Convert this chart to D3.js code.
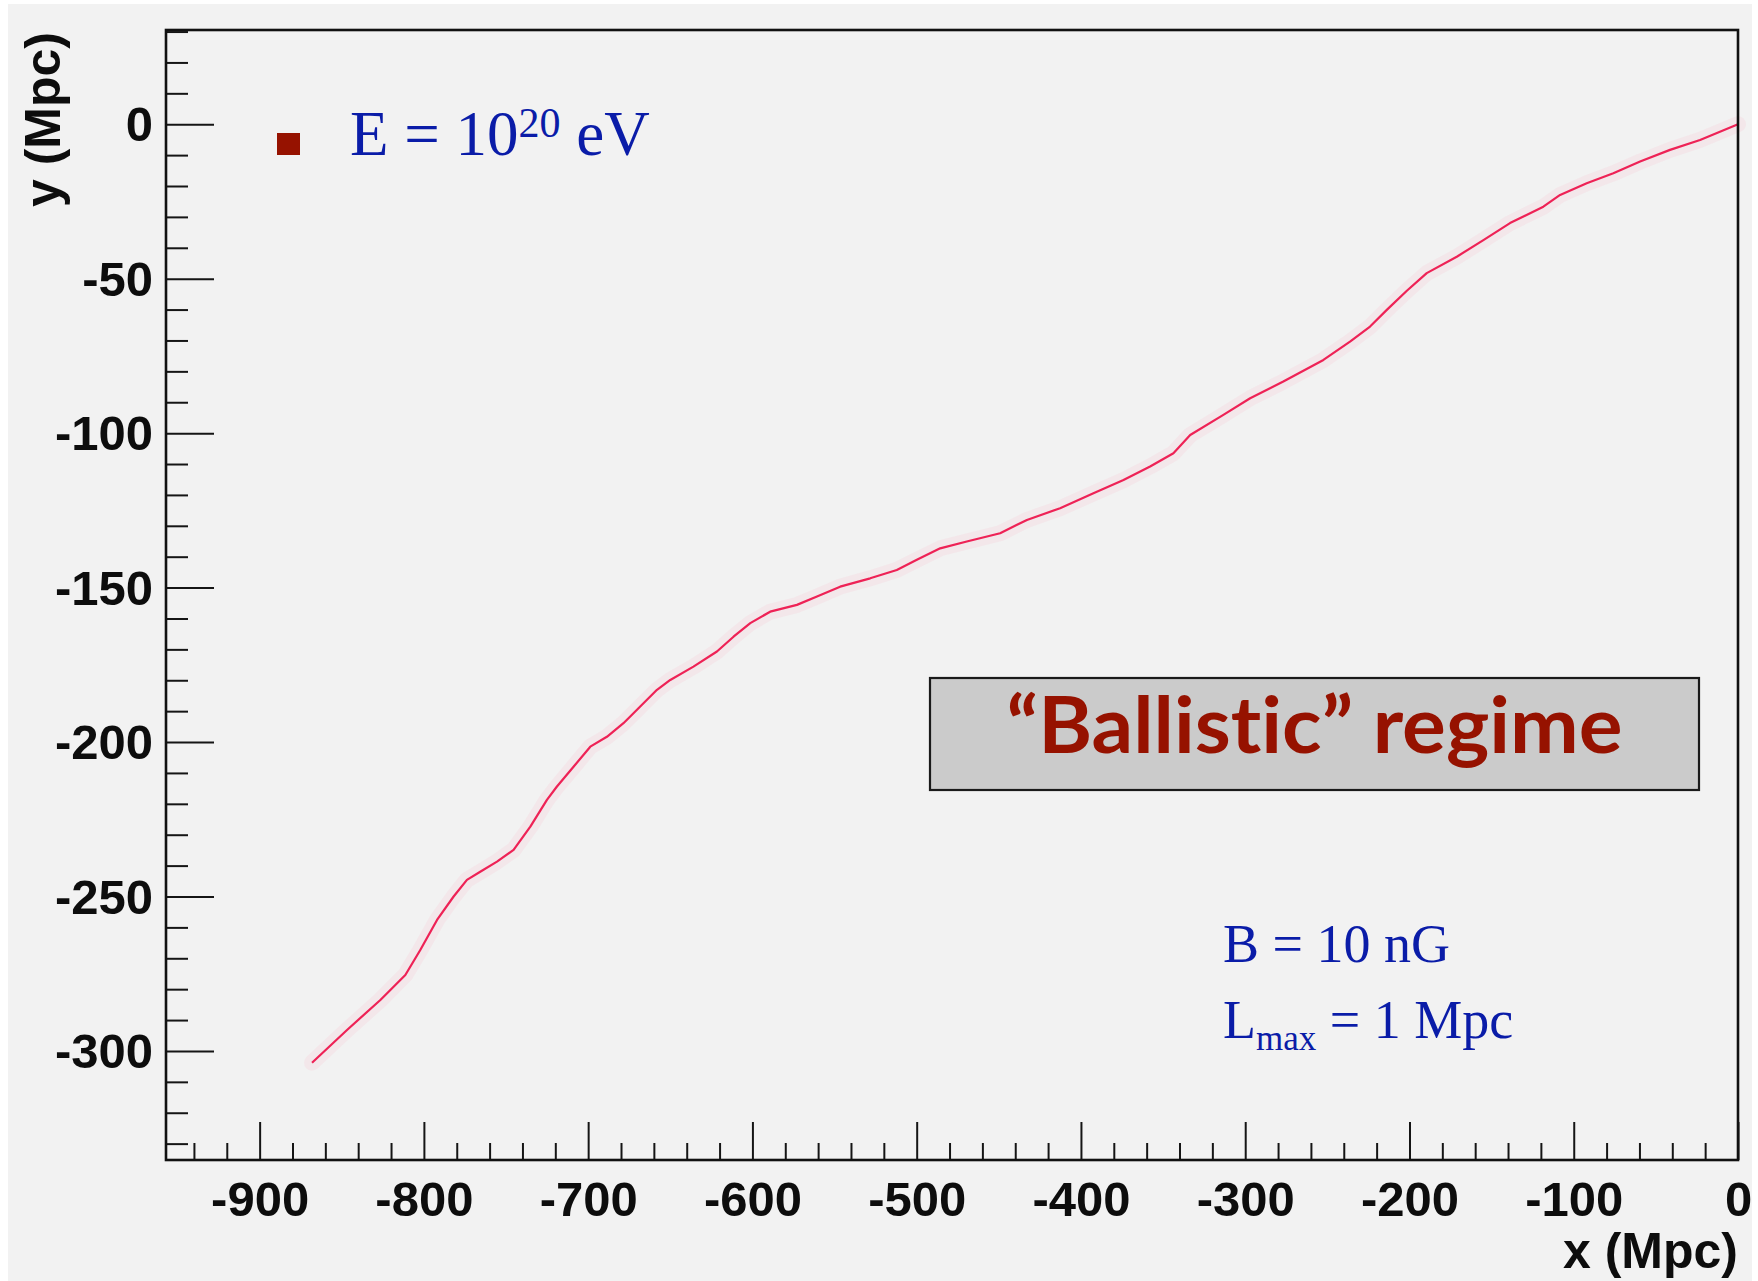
<!DOCTYPE html>
<html>
<head>
<meta charset="utf-8">
<script src="https://cdn.jsdelivr.net/npm/d3@7"></script>
<style>
  html, body { margin: 0; padding: 0; background: #ffffff; }
  svg { display: block; }
</style>
</head>
<body>
<svg id="chart" width="1758" height="1281"></svg>
<script>
// Trajectory of a 10^20 eV proton in a 10 nG turbulent field (x, y in Mpc)
const trajX = [-868.1, -846.8, -826.5, -811.3, -802.2, -792.0, -781.9, -773.8, -765.7, -755.5,
  -745.4, -735.2, -725.1, -719.0, -708.9, -698.7, -688.6, -678.5, -668.3, -658.1,
  -650.0, -635.9, -621.6, -611.5, -601.3, -589.2, -572.9, -560.7, -546.6, -528.3,
  -512.1, -499.9, -485.7, -469.5, -449.2, -432.9, -412.7, -392.4, -374.1, -357.9,
  -343.7, -333.5, -313.3, -297.0, -276.8, -252.4, -236.2, -224.0, -213.8, -201.6,
  -189.5, -171.2, -155.0, -138.8, -118.5, -108.3, -92.1, -75.9, -59.6, -41.4,
  -23.1, 0.0];
const trajY = [-303.8, -293.2, -283.5, -275.4, -267.3, -257.6, -250.0, -244.6, -242.0, -238.7,
  -234.9, -227.4, -218.7, -214.4, -208.0, -201.5, -198.3, -193.9, -188.5, -183.1,
  -179.9, -175.6, -170.7, -165.9, -161.5, -157.8, -155.6, -152.9, -149.7, -147.0,
  -144.3, -141.0, -137.3, -135.1, -132.4, -128.1, -124.3, -119.5, -115.2, -110.8,
  -106.5, -100.6, -94.1, -88.7, -83.3, -76.3, -70.4, -65.5, -60.1, -53.9,
  -48.2, -42.9, -37.5, -32.0, -26.7, -22.9, -19.1, -15.9, -12.1, -8.3,
  -5.1, 0.0];

// Axis ranges and tick values
const xRange = [-957, 0];
const yRange = [-335.3, 30.5];
const xMajorTicks = [-900, -800, -700, -600, -500, -400, -300, -200, -100, 0];
const xMinorTicks = d3.range(-940, 0, 20).filter(v => v % 100 !== 0);
const yMajorTicks = [-300, -250, -200, -150, -100, -50, 0];
const yMinorTicks = d3.range(-330, 31, 10).filter(v => v % 50 !== 0);

// Text content
const xTitle = "x (Mpc)";
const yTitle = "y (Mpc)";
const legendLabel = { base: "E = 10", sup: "20", tail: " eV" };
const regimeLabel = "\u201CBallistic\u201D regime";
const fieldLabel = "B = 10 nG";
const lengthLabel = { base: "L", sub: "max", tail: " = 1 Mpc" };

const svg = d3.select("#chart");
const W = 1758, H = 1281;
const frame = { left: 166, right: 1738, top: 30, bottom: 1160 };

// page background
svg.append("rect").attr("x", 0).attr("y", 0).attr("width", W).attr("height", H).attr("fill", "#ffffff");
svg.append("rect").attr("x", 8).attr("y", 4).attr("width", W - 14).attr("height", H - 4).attr("fill", "#f2f2f2");

const x = d3.scaleLinear().domain(xRange).range([frame.left, frame.right]);
const y = d3.scaleLinear().domain(yRange).range([frame.bottom, frame.top]);

const axisFont = "'Liberation Sans', Arial, Helvetica, sans-serif";
const serifFont = "'Liberation Serif', 'Times New Roman', Times, serif";
const blue = "#0a1ca8";
const darkRed = "#961200";

// faint glow under the trajectory
const line = d3.line().x((d, i) => x(trajX[i])).y((d, i) => y(trajY[i])).curve(d3.curveLinear);
svg.append("path")
  .attr("d", line(trajX))
  .attr("fill", "none")
  .attr("stroke", "#ff9fb5")
  .attr("stroke-opacity", 0.12)
  .attr("stroke-width", 16)
  .attr("stroke-linejoin", "round")
  .attr("stroke-linecap", "round");
svg.append("path")
  .attr("d", line(trajX))
  .attr("fill", "none")
  .attr("stroke", "#ee2256")
  .attr("stroke-width", 2.2)
  .attr("stroke-linejoin", "round");

// x axis: minor then major ticks pointing into the frame
const xMinor = svg.append("g").attr("transform", `translate(0,${frame.bottom})`)
  .call(d3.axisBottom(x).tickValues(xMinorTicks).tickSizeInner(-17).tickSizeOuter(0).tickFormat(""));
const xMajor = svg.append("g").attr("transform", `translate(0,${frame.bottom})`)
  .call(d3.axisBottom(x).tickValues(xMajorTicks).tickSizeInner(-38).tickSizeOuter(0)
    .tickPadding(21).tickFormat(d => String(d)));

// y axis
const yMinor = svg.append("g").attr("transform", `translate(${frame.left},0)`)
  .call(d3.axisLeft(y).tickValues(yMinorTicks).tickSizeInner(-22).tickSizeOuter(0).tickFormat(""));
const yMajor = svg.append("g").attr("transform", `translate(${frame.left},0)`)
  .call(d3.axisLeft(y).tickValues(yMajorTicks).tickSizeInner(-48).tickSizeOuter(0)
    .tickPadding(13).tickFormat(d => String(d)));

[xMinor, xMajor, yMinor, yMajor].forEach(g => {
  g.select(".domain").remove();
  g.selectAll(".tick line").attr("stroke", "#151515").attr("stroke-width", 2);
  g.selectAll(".tick text")
    .attr("fill", "#0d0d0d")
    .attr("font-family", axisFont)
    .attr("font-weight", "bold")
    .attr("font-size", 49);
});
yMajor.selectAll(".tick text").attr("dy", "0.34em");

// frame
svg.append("rect")
  .attr("x", frame.left).attr("y", frame.top)
  .attr("width", frame.right - frame.left).attr("height", frame.bottom - frame.top)
  .attr("fill", "none").attr("stroke", "#111111").attr("stroke-width", 2.6);

// axis titles
svg.append("text")
  .attr("x", frame.right).attr("y", 1268)
  .attr("text-anchor", "end")
  .attr("font-family", axisFont).attr("font-weight", "bold").attr("font-size", 50)
  .attr("fill", "#0d0d0d")
  .text(xTitle);
svg.append("text")
  .attr("transform", `translate(60,${frame.top + 2}) rotate(-90)`)
  .attr("text-anchor", "end")
  .attr("font-family", axisFont).attr("font-weight", "bold").attr("font-size", 50)
  .attr("fill", "#0d0d0d")
  .text(yTitle);

// legend entry
svg.append("rect")
  .attr("x", 277).attr("y", 133).attr("width", 23).attr("height", 22)
  .attr("fill", darkRed);
const leg = svg.append("text")
  .attr("x", 350).attr("y", 155)
  .attr("font-family", serifFont).attr("font-size", 63).attr("fill", blue);
leg.append("tspan").text(legendLabel.base);
leg.append("tspan").attr("font-size", 42).attr("dy", -18).text(legendLabel.sup);
leg.append("tspan").attr("dy", 18).text(legendLabel.tail);

// regime box
const box = { x0: 930, x1: 1699, y0: 678, y1: 790 };
svg.append("rect")
  .attr("x", box.x0).attr("y", box.y0)
  .attr("width", box.x1 - box.x0).attr("height", box.y1 - box.y0)
  .attr("fill", "#cbcbcb").attr("stroke", "#1a1a1a").attr("stroke-width", 2.2);
svg.append("text")
  .attr("x", (box.x0 + box.x1) / 2).attr("y", 753)
  .attr("text-anchor", "middle")
  .attr("font-family", "'Comic Sans MS', Lato, 'Noto Sans', sans-serif")
  .attr("font-weight", "bold").attr("font-size", 78)
  .style("font-variant-ligatures", "none")
  .style("font-feature-settings", "'liga' 0, 'dlig' 0")
  .attr("fill", darkRed)
  .attr("textLength", 616).attr("lengthAdjust", "spacingAndGlyphs")
  .text(regimeLabel);

// field parameters
svg.append("text")
  .attr("x", 1223).attr("y", 962)
  .attr("font-family", serifFont).attr("font-size", 54).attr("fill", blue)
  .text(fieldLabel);
const lt = svg.append("text")
  .attr("x", 1223).attr("y", 1038)
  .attr("font-family", serifFont).attr("font-size", 54).attr("fill", blue);
lt.append("tspan").text(lengthLabel.base);
lt.append("tspan").attr("font-size", 35).attr("dy", 12).text(lengthLabel.sub);
lt.append("tspan").attr("dy", -12).text(lengthLabel.tail);
</script>
</body>
</html>
